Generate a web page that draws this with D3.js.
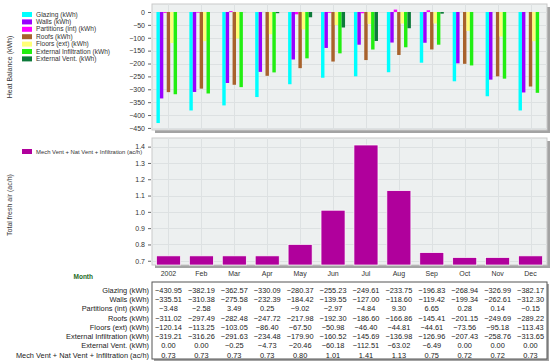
<!DOCTYPE html>
<html>
<head>
<meta charset="utf-8">
<script src="https://cdn.jsdelivr.net/npm/d3@7"></script>
<style>
  html, body { margin: 0; padding: 0; background: #fff; }
  svg { display: block; font-family: "Liberation Sans", Arial, sans-serif; }
</style>
</head>
<body>
<svg id="chart" width="550" height="363"></svg>
<script>
const months = ["2002", "Feb", "Mar", "Apr", "May", "Jun", "Jul", "Aug", "Sep", "Oct", "Nov", "Dec"];

const glazing = [-430.95, -382.19, -362.57, -330.09, -280.37, -255.23, -249.61, -233.75, -196.83, -268.94, -326.99, -382.17];
const walls = [-335.51, -310.38, -275.58, -232.39, -184.42, -139.55, -127.00, -118.60, -119.42, -199.34, -262.61, -312.30];
const partitions = [-3.48, -2.58, 3.49, 0.25, -9.02, -2.97, -4.84, 9.30, 6.65, 0.28, 0.14, -0.15];
const roofs = [-311.02, -297.49, -282.48, -247.72, -217.98, -192.30, -186.60, -166.86, -145.41, -201.15, -249.69, -289.22];
const floors = [-120.14, -113.25, -103.05, -86.40, -67.50, -50.98, -46.40, -44.81, -44.61, -73.56, -95.18, -113.43];
const extInfil = [-319.21, -316.26, -291.63, -234.48, -179.90, -160.52, -145.69, -136.98, -126.96, -207.43, -258.76, -313.65];
const extVent = [0.00, 0.00, -0.25, -4.73, -20.46, -60.18, -112.51, -63.02, -6.49, 0.00, 0.00, 0.00];
const freshAir = [0.73, 0.73, 0.73, 0.73, 0.80, 1.01, 1.41, 1.13, 0.75, 0.72, 0.72, 0.73];

const heatTicks = [0, -50, -100, -150, -200, -250, -300, -350, -400, -450];
const airTicks = [0.7, 0.8, 0.9, 1.0, 1.1, 1.2, 1.3, 1.4];

const heatSeries = [
  { name: "Glazing (kWh)", values: glazing, color: "#00ffff" },
  { name: "Walls (kWh)", values: walls, color: "#9900ff" },
  { name: "Partitions (int) (kWh)", values: partitions, color: "#ff00ff" },
  { name: "Roofs (kWh)", values: roofs, color: "#a8622c" },
  { name: "Floors (ext) (kWh)", values: floors, color: "#ffff77" },
  { name: "External Infiltration (kWh)", values: extInfil, color: "#22ee11" },
  { name: "External Vent. (kWh)", values: extVent, color: "#0d7a3a" },
];
const airName = "Mech Vent + Nat Vent + Infiltration (ac/h)";
const airColor = "#b0009c";

const tableRows = [
  { label: "Glazing (kWh)", values: glazing },
  { label: "Walls (kWh)", values: walls },
  { label: "Partitions (int) (kWh)", values: partitions },
  { label: "Roofs (kWh)", values: roofs },
  { label: "Floors (ext) (kWh)", values: floors },
  { label: "External Infiltration (kWh)", values: extInfil },
  { label: "External Vent. (kWh)", values: extVent },
  { label: airName, values: freshAir },
];

const svg = d3.select("#chart");
const left = 152, right = 547;
const fmt2 = d3.format(".2f");

const x = d3.scaleBand().domain(months).range([left, right]).paddingInner(0.27).paddingOuter(0.135);
const xc = (m) => x(m) + x.bandwidth() / 2;

function panel(top, bottom) {
  svg.append("rect").attr("x", left + 3).attr("y", top + 3)
    .attr("width", right - left).attr("height", bottom - top).attr("fill", "#a3a3a3");
  svg.append("rect").attr("x", left).attr("y", top)
    .attr("width", right - left).attr("height", bottom - top)
    .attr("fill", "#edf0f0").attr("stroke", "#c9c9c9").attr("stroke-width", 1);
}

function grid(y, ticks, top, bottom) {
  svg.append("g").selectAll("line.h").data(ticks).join("line")
    .attr("x1", left).attr("x2", right)
    .attr("y1", (d) => Math.round(y(d)) + 0.5).attr("y2", (d) => Math.round(y(d)) + 0.5)
    .attr("stroke", "#dde1e2");
  svg.append("g").selectAll("line.v").data(months).join("line")
    .attr("x1", (d) => Math.round(xc(d)) + 0.5).attr("x2", (d) => Math.round(xc(d)) + 0.5)
    .attr("y1", top).attr("y2", bottom)
    .attr("stroke", "#dde1e2");
}

function yAxis(y, ticks, format) {
  const g = svg.append("g").attr("transform", `translate(${left - 1},0)`)
    .call(d3.axisLeft(y).tickValues(ticks).tickFormat(format).tickSize(3).tickPadding(3));
  g.select(".domain").remove();
  g.selectAll(".tick line").attr("stroke", "#666");
  g.selectAll(".tick text").attr("font-size", 7).attr("fill", "#333")
    .attr("font-family", "'Liberation Sans', Arial, sans-serif");
}

// ---- top: heat balance
const topY0 = 4, topY1 = 130;
const yHeat = d3.scaleLinear().domain([-458, 31]).range([topY1, topY0]);
panel(topY0, topY1);
grid(yHeat, heatTicks, topY0, topY1);

const xs = d3.scaleBand().domain(heatSeries.map((s) => s.name)).range([0, x.bandwidth()]);
const groups = svg.append("g").selectAll("g").data(heatSeries).join("g").attr("fill", (s) => s.color);
groups.selectAll("rect")
  .data((s) => s.values.map((v, i) => ({ s, v, m: months[i] })))
  .join("rect")
  .attr("x", (d) => x(d.m) + xs(d.s.name))
  .attr("width", xs.bandwidth())
  .attr("y", (d) => yHeat(Math.max(0, d.v)))
  .attr("height", (d) => Math.abs(yHeat(d.v) - yHeat(0)));

yAxis(yHeat, heatTicks, d3.format("d"));

svg.append("text").attr("transform", "translate(12,67) rotate(-90)")
  .attr("text-anchor", "middle").attr("font-size", 7).attr("fill", "#333")
  .text("Heat Balance (kWh)");

const leg = svg.append("g").selectAll("g").data(heatSeries).join("g")
  .attr("transform", (d, i) => `translate(22,${12 + i * 7.4})`);
leg.append("rect").attr("width", 10).attr("height", 5).attr("fill", (d) => d.color);
leg.append("text").attr("x", 14).attr("y", 4.6).attr("font-size", 6.6).attr("fill", "#333").text((d) => d.name);

// ---- bottom: total fresh air
const botY0 = 138, botY1 = 265;
const yAir = d3.scaleLinear().domain([0.674, 1.453]).range([botY1, botY0]);
panel(botY0, botY1);
grid(yAir, airTicks, botY0, botY1);

svg.append("g").selectAll("rect").data(months).join("rect")
  .attr("x", (m) => x(m)).attr("width", x.bandwidth())
  .attr("y", (m, i) => yAir(freshAir[i]))
  .attr("height", (m, i) => botY1 - yAir(freshAir[i]))
  .attr("fill", airColor).attr("stroke", "#fff").attr("stroke-width", 0.7);

yAxis(yAir, airTicks, d3.format(".1f"));

svg.append("text").attr("transform", "translate(12,205) rotate(-90)")
  .attr("text-anchor", "middle").attr("font-size", 7).attr("fill", "#333")
  .text("Total fresh air (ac/h)");

svg.append("rect").attr("x", 22).attr("y", 149).attr("width", 10).attr("height", 5).attr("fill", airColor);
svg.append("text").attr("x", 36).attr("y", 153.8).attr("font-size", 5.9).attr("fill", "#333").text(airName);

// ---- month header + table
svg.append("g").selectAll("text").data(months).join("text")
  .attr("x", (m) => xc(m)).attr("y", 275.5).attr("text-anchor", "middle")
  .attr("font-size", 7).attr("fill", "#333").text((m) => m);
svg.append("text").attr("x", 93).attr("y", 279).attr("text-anchor", "end")
  .attr("font-size", 6.5).attr("font-weight", "bold").attr("fill", "#1e6b1e").text("Month");

const tTop = 282, tBot = 359;
svg.append("rect").attr("x", left + 2).attr("y", tTop + 2).attr("width", right - left).attr("height", tBot - tTop).attr("fill", "#a3a3a3");
svg.append("rect").attr("x", left).attr("y", tTop).attr("width", right - left).attr("height", tBot - tTop)
  .attr("fill", "#fff").attr("stroke", "#555").attr("stroke-width", 1);

const rowY = d3.scalePoint().domain(tableRows.map((r) => r.label)).range([290, 354.5]);
const rows = svg.append("g").selectAll("g").data(tableRows).join("g")
  .attr("transform", (r) => `translate(0,${rowY(r.label) + 3})`);
rows.append("text").attr("x", 149).attr("text-anchor", "end").attr("font-size", 7.4).attr("fill", "#222").text((r) => r.label);
rows.selectAll("text.v").data((r) => r.values.map((v, i) => ({ v, m: months[i] }))).join("text")
  .attr("class", "v").attr("x", (d) => xc(d.m)).attr("text-anchor", "middle")
  .attr("font-size", 7.4).attr("fill", "#222").text((d) => fmt2(d.v));
</script>
</body>
</html>
